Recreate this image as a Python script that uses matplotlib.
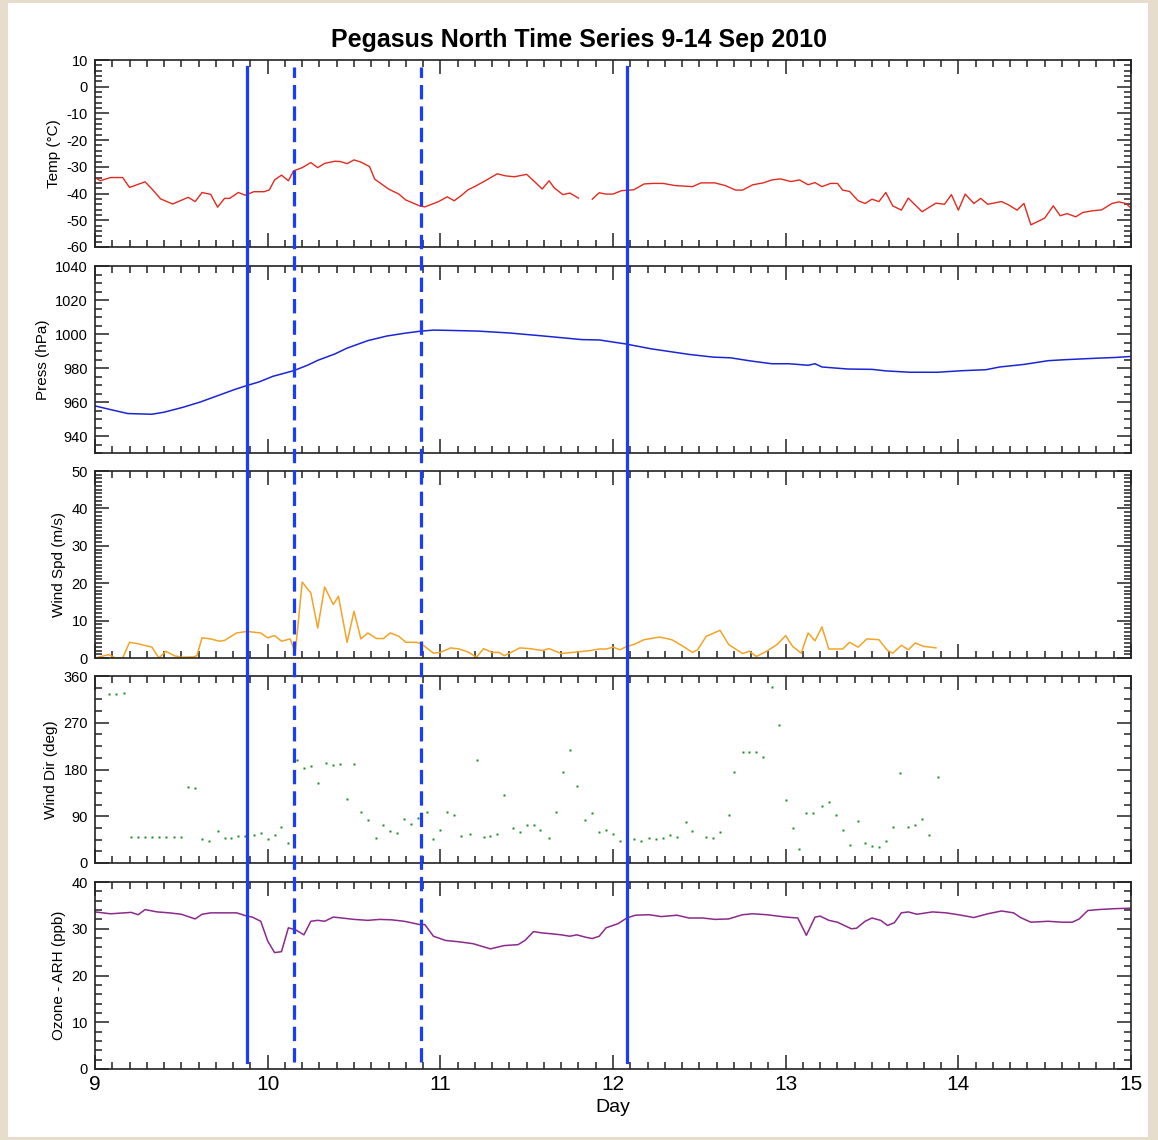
"""Series temporelles Pegasus North 9-14 Sep 2010."""

import matplotlib
matplotlib.use("Agg")
import matplotlib.pyplot as plt
from matplotlib.patches import Rectangle
from matplotlib.ticker import MultipleLocator
import numpy as np

# Donnees
temp_jours = [9.00, 9.03, 9.09, 9.16, 9.20, 9.29, 9.33, 9.38, 9.45, 9.54,
              9.58, 9.62, 9.67, 9.71, 9.75, 9.78, 9.83, 9.87, 9.92, 9.98,
              10.01, 10.04, 10.08, 10.12, 10.15, 10.20, 10.25, 10.29, 10.33,
              10.39, 10.42, 10.46, 10.50, 10.54, 10.59, 10.62, 10.70, 10.76,
              10.80, 10.88, 10.91, 10.99, 11.04, 11.08, 11.12, 11.16, 11.21,
              11.26, 11.33, 11.38, 11.43, 11.50, 11.55, 11.59, 11.63, 11.66,
              11.71, 11.75, 11.80, 11.84, 11.88, 11.92, 11.96, 12.00, 12.05,
              12.12, 12.18, 12.23, 12.29, 12.36, 12.46, 12.51, 12.59, 12.65,
              12.71, 12.75, 12.81, 12.87, 12.92, 12.97, 13.03, 13.08, 13.13,
              13.17, 13.21, 13.26, 13.30, 13.33, 13.37, 13.42, 13.46, 13.50,
              13.54, 13.58, 13.62, 13.67, 13.71, 13.79, 13.84, 13.87, 13.92,
              13.96, 14.00, 14.04, 14.09, 14.13, 14.17, 14.25, 14.29, 14.34,
              14.38, 14.42, 14.50, 14.55, 14.59, 14.63, 14.68, 14.72, 14.77,
              14.83, 14.89, 14.93, 14.97, 15.00]
temp = [-34.0, -35.2, -34.0, -34.0, -37.7, -35.6, -38.3, -42.0, -43.9, -41.4,
        -43.0, -39.6, -40.3, -45.1, -41.8, -41.8, -39.6, -40.6, -39.3, -39.3,
        -38.6, -34.9, -33.1, -35.2, -31.5, -30.3, -28.4, -30.3, -28.7,
        -27.9, -28.0, -28.8, -27.4, -28.2, -29.9, -34.6, -38.3, -40.2,
        -42.4, -44.6, -45.0, -43.0, -41.2, -42.7, -40.8, -38.6, -37.0,
        -35.2, -32.6, -33.4, -33.7, -32.8, -35.8, -38.3, -35.2, -37.9,
        -40.4, -39.8, -41.7, np.nan, -42.1, -39.7, -40.2, -40.2, -38.9,
        -38.6, -36.4, -36.2, -36.2, -37.0, -37.4, -36.0, -36.0, -37.0,
        -38.7, -38.7, -36.7, -36.0, -34.9, -34.5, -35.5, -34.9, -36.7,
        -35.9, -37.4, -36.2, -36.2, -38.7, -39.2, -42.7, -43.7, -42.1,
        -43.0, -39.6, -44.6, -46.2, -41.7, -46.8, -44.8, -43.6, -44.0,
        -40.4, -46.2, -40.2, -43.7, -41.8, -44.0, -43.0, -44.2, -46.2,
        -43.7, -51.7, -49.2, -44.6, -48.3, -47.5, -48.7, -47.1, -46.5,
        -46.1, -43.7, -43.1, -43.7, -45.4]

press_jours = [9.00, 9.10, 9.19, 9.33, 9.40, 9.51, 9.61, 9.71, 9.81, 9.88,
               9.95, 10.03, 10.15, 10.23, 10.29, 10.39, 10.46, 10.58, 10.69,
               10.79, 10.88, 10.96, 11.06, 11.22, 11.40, 11.60, 11.82, 11.92,
               12.07, 12.22, 12.44, 12.58, 12.68, 12.80, 12.92, 13.02, 13.13,
               13.17, 13.21, 13.36, 13.50, 13.58, 13.72, 13.88, 14.02, 14.16,
               14.24, 14.38, 14.52, 14.62, 14.81, 14.91, 15.00]
press = [957.7, 955.3, 953.2, 952.8, 954.0, 956.9, 960.0, 963.7, 967.4, 969.7,
         971.8, 975.1, 978.4, 981.6, 984.5, 988.3, 991.7, 996.1, 998.8,
         1000.4, 1001.6, 1002.3, 1002.1, 1001.7, 1000.6, 998.8, 996.7, 996.5,
         994.2, 991.3, 988.0, 986.4, 986.0, 984.1, 982.5, 982.5, 981.6,
         982.5, 980.6, 979.4, 979.2, 978.3, 977.5, 977.5, 978.4, 979.0,
         980.6, 982.1, 984.3, 984.9, 985.8, 986.2, 986.8]

vent_jours = [9.00, 9.08, 9.12, 9.16, 9.20, 9.25, 9.33, 9.37, 9.41, 9.46,
              9.50, 9.57, 9.59, 9.62, 9.67, 9.72, 9.75, 9.82, 9.88, 9.96,
              10.00, 10.04, 10.08, 10.13, 10.16, 10.20, 10.25, 10.29, 10.33,
              10.38, 10.41, 10.46, 10.50, 10.54, 10.58, 10.63, 10.67, 10.71,
              10.76, 10.80, 10.86, 10.89, 10.96, 11.00, 11.06, 11.11, 11.16,
              11.21, 11.25, 11.30, 11.34, 11.37, 11.41, 11.46, 11.52, 11.59,
              11.63, 11.70, 11.79, 11.87, 11.92, 11.96, 12.00, 12.04, 12.08,
              12.12, 12.18, 12.27, 12.34, 12.40, 12.46, 12.49, 12.54, 12.62,
              12.67, 12.75, 12.79, 12.83, 12.89, 12.95, 13.00, 13.04, 13.09,
              13.13, 13.17, 13.21, 13.25, 13.33, 13.37, 13.42, 13.47, 13.54,
              13.59, 13.62, 13.67, 13.71, 13.75, 13.80, 13.84, 13.87]
vent = [0, 0.9, 0, 0, 4.2, 3.8, 2.9, 0, 1.8, 0.6,
        0.2, 0.3, 0.6, 5.4, 5.1, 4.5, 4.7, 6.7, 7.1, 6.7,
        5.4, 6.0, 4.5, 5.1, 1.5, 20.3, 17.4, 8.0, 19.0,
        14.3, 16.5, 4.2, 12.5, 5.1, 6.7, 5.2, 5.2, 6.7,
        5.8, 4.2, 4.2, 3.8, 1.3, 1.5, 2.7, 2.4, 1.6,
        0.2, 2.5, 1.5, 1.5, 0.6, 1.5, 2.7, 2.5, 2.0,
        2.5, 1.2, 1.6, 2.0, 2.4, 2.4, 2.9, 2.2, 3.1,
        3.6, 4.9, 5.6, 4.9, 3.3, 1.5, 2.2, 5.8, 7.4,
        3.6, 1.2, 1.8, 0.4, 1.8, 3.6, 6.0, 3.1, 1.3,
        6.7, 4.6, 8.3, 2.4, 2.4, 4.2, 2.9, 5.1, 4.9,
        2.0, 1.3, 3.4, 2.2, 4.0, 3.1, 2.9, 2.7]

dir_jours = [9.08, 9.12, 9.17, 9.21, 9.25, 9.29, 9.33, 9.37, 9.41, 9.46,
             9.50, 9.54, 9.58, 9.62, 9.66, 9.71, 9.75, 9.79, 9.83, 9.87,
             9.92, 9.96, 10.00, 10.04, 10.08, 10.12, 10.17, 10.21, 10.25,
             10.29, 10.34, 10.38, 10.42, 10.46, 10.50, 10.54, 10.58, 10.63,
             10.67, 10.71, 10.75, 10.79, 10.83, 10.87, 10.92, 10.96, 11.00,
             11.04, 11.08, 11.12, 11.17, 11.21, 11.25, 11.29, 11.33, 11.37,
             11.42, 11.46, 11.50, 11.54, 11.58, 11.63, 11.67, 11.71, 11.75,
             11.79, 11.84, 11.88, 11.92, 11.96, 12.00, 12.04, 12.08, 12.12,
             12.16, 12.21, 12.25, 12.29, 12.33, 12.37, 12.42, 12.46, 12.54,
             12.58, 12.62, 12.67, 12.70, 12.75, 12.79, 12.83, 12.87, 12.92,
             12.96, 13.00, 13.04, 13.08, 13.12, 13.16, 13.21, 13.25, 13.29,
             13.33, 13.37, 13.42, 13.46, 13.50, 13.54, 13.58, 13.62, 13.66,
             13.71, 13.75, 13.79, 13.83, 13.88]
direction = [326, 326, 327, 51, 51, 51, 51, 51, 51, 51,
             51, 146, 145, 46, 43, 62, 49, 49, 52, 52,
             54, 57, 46, 54, 69, 39, 199, 183, 186,
             154, 192, 189, 190, 124, 190, 99, 82, 48,
             74, 62, 57, 85, 75, 87, 99, 47, 64,
             99, 92, 52, 56, 199, 51, 52, 55, 131,
             68, 59, 73, 73, 63, 48, 99, 175, 217,
             148, 82, 97, 60, 64, 55, 43, 58, 46,
             43, 49, 47, 49, 54, 50, 79, 62, 50,
             48, 59, 93, 176, 213, 214, 214, 204, 338,
             266, 122, 67, 26, 96, 96, 109, 118, 92,
             63, 34, 80, 38, 33, 30, 42, 70, 173,
             70, 74, 85, 54, 166]

ozone_jours = [9.00, 9.09, 9.21, 9.25, 9.29, 9.36, 9.43, 9.50, 9.58, 9.62,
               9.67, 9.82, 9.88, 9.91, 9.96, 10.00, 10.04, 10.08, 10.12,
               10.16, 10.21, 10.25, 10.29, 10.33, 10.38, 10.43, 10.50, 10.58,
               10.65, 10.72, 10.79, 10.83, 10.88, 10.91, 10.96, 11.03, 11.11,
               11.19, 11.29, 11.37, 11.45, 11.49, 11.54, 11.59, 11.65, 11.70,
               11.75, 11.79, 11.84, 11.88, 11.92, 11.96, 12.03, 12.08, 12.13,
               12.21, 12.28, 12.37, 12.44, 12.52, 12.59, 12.67, 12.75, 12.81,
               12.89, 13.00, 13.07, 13.12, 13.17, 13.20, 13.25, 13.30, 13.38,
               13.41, 13.46, 13.50, 13.55, 13.59, 13.63, 13.67, 13.71, 13.76,
               13.85, 13.93, 14.00, 14.09, 14.17, 14.25, 14.32, 14.36, 14.42,
               14.52, 14.60, 14.66, 14.70, 14.75, 14.81, 14.91, 15.00]
ozone = [33.6, 33.2, 33.5, 33.0, 34.1, 33.6, 33.4, 33.1, 32.1, 33.1,
         33.4, 33.4, 32.7, 32.5, 31.6, 27.4, 24.9, 25.1, 30.2,
         29.8, 28.7, 31.6, 31.8, 31.6, 32.5, 32.3, 32.0, 31.8,
         32.0, 31.9, 31.6, 31.3, 30.9, 30.9, 28.4, 27.5, 27.2,
         26.8, 25.7, 26.4, 26.6, 27.5, 29.4, 29.1, 28.9, 28.7,
         28.4, 28.7, 28.2, 27.9, 28.4, 30.2, 31.1, 32.3, 32.9,
         33.0, 32.6, 32.9, 32.3, 32.3, 32.0, 32.1, 33.0, 33.2,
         33.0, 32.5, 32.3, 28.6, 32.5, 32.7, 31.8, 31.4, 30.0,
         30.1, 31.6, 32.3, 31.8, 30.7, 31.3, 33.4, 33.6, 33.1,
         33.6, 33.4, 33.0, 32.4, 33.2, 33.8, 33.4, 32.4, 31.4,
         31.6, 31.4, 31.4, 32.1, 33.9, 34.1, 34.3, 34.4]

# Evenements (lignes verticales)
evenements_pleins = [9.88, 12.08]
evenements_tirets = [10.15, 10.89]

plt.rcParams['font.family'] = ['Liberation Sans', 'DejaVu Sans']
plt.rcParams['axes.unicode_minus'] = False  # tiret simple comme l'original

W, H = 1158, 1140
fig = plt.figure(figsize=(W / 100, H / 100), dpi=100)
fig.patch.set_facecolor('#e6ddcd')
# Cadre blanc interieur
fig.patches.append(Rectangle((8 / W, 1 - 1137 / H), 1140 / W, 1134 / H,
                             transform=fig.transFigure, facecolor='white',
                             edgecolor='none', zorder=-1))

gauche = 95 / W
largeur = 1036 / W
hauteur = 187 / H
hauts = [60, 266, 471, 676, 882]  # haut de chaque panneau en pixels

panneaux = [
    # (label, ylim, major, minor)
    ('Temp (°C)', (-60, 10), 10, 2),
    ('Press (hPa)', (930, 1040), 20, 5),
    ('Wind Spd (m/s)', (0, 50), 10, 1),
    ('Wind Dir (deg)', (0, 360), 90, 22.5),
    ('Ozone - ARH (ppb)', (0, 40), 10, 2),
]

axes = []
for haut, (label, ylim, maj, mnr) in zip(hauts, panneaux):
    ax = fig.add_axes([gauche, 1 - (haut + 187) / H, largeur, hauteur])
    ax.set_xlim(9, 15)
    ax.set_ylim(*ylim)
    ax.xaxis.set_major_locator(MultipleLocator(1))
    ax.xaxis.set_minor_locator(MultipleLocator(0.1))
    ax.yaxis.set_major_locator(MultipleLocator(maj))
    ax.yaxis.set_minor_locator(MultipleLocator(mnr))
    ax.tick_params(which='both', direction='in', top=True, right=True,
                   width=1.1, color='#222222')
    ax.tick_params(which='major', length=10)
    ax.tick_params(which='minor', length=5)
    ax.tick_params(axis='y', labelsize=10.5, pad=5)
    ax.tick_params(axis='x', labelsize=15, pad=4)
    ax.set_ylabel(label, fontsize=11)
    for sp in ax.spines.values():
        sp.set_linewidth(1.2)
        sp.set_color('#222222')
    if haut != hauts[-1]:
        ax.tick_params(axis='x', labelbottom=False)
    axes.append(ax)

axes[0].plot(temp_jours, temp, color='#e3291f', lw=1.0)
axes[1].plot(press_jours, press, color='#1b25d6', lw=1.1)
axes[2].plot(vent_jours, vent, color='#f2a427', lw=1.1)
axes[3].plot(dir_jours, direction, ls='none', marker='s', ms=1.9,
             color='#1f8a22', mec='none')
axes[4].plot(ozone_jours, ozone, color='#8c2a8c', lw=1.1)
axes[4].set_xlabel('Day', fontsize=14)

# Lignes verticales a travers tous les panneaux
ax_sup = fig.add_axes([gauche, 1 - 1069 / H, largeur, 1009 / H])
ax_sup.set_xlim(9, 15)
ax_sup.set_ylim(0, 1)
ax_sup.axis('off')
ax_sup.patch.set_alpha(0)
for j in evenements_pleins:
    ax_sup.axvline(j, ymin=0.007, ymax=0.993, color='#1a3cff', lw=2.3)
for j in evenements_tirets:
    ax_sup.axvline(j, ymin=0.007, ymax=0.993, color='#1a3cff', lw=2.3,
                   ls=(0, (4.5, 2.2)))

fig.text(0.5, 1 - 40 / H, 'Pegasus North Time Series 9-14 Sep 2010',
         ha='center', va='center', fontsize=18, fontweight='bold')

plt.savefig('out.png', dpi=100, facecolor=fig.get_facecolor())
